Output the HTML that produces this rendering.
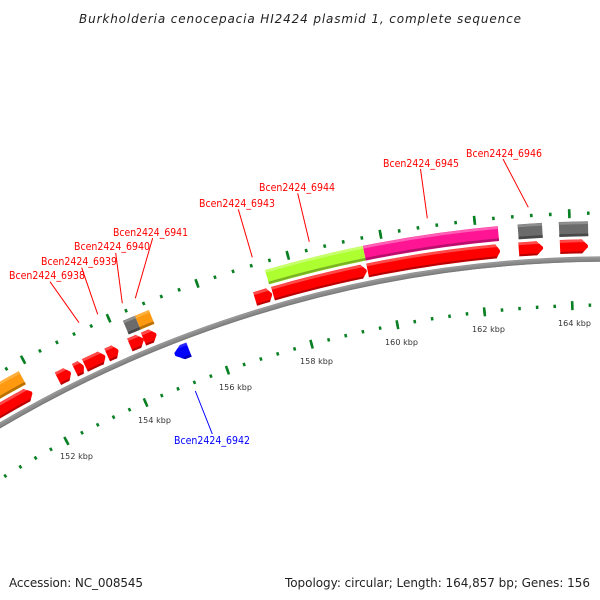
<!DOCTYPE html>
<html>
<head>
<meta charset="utf-8">
<style>
html,body{margin:0;padding:0;background:#fff;width:600px;height:600px;overflow:hidden}
svg{display:block;overflow:hidden}
text{font-family:"DejaVu Sans","Liberation Sans",sans-serif}
.lbl{font-size:11px}
.r{fill:#f00}
.b{fill:#00f}
.tk{font-size:8px;fill:#333}
.ft{font-size:12px;fill:#222}
</style>
</head>
<body>
<svg width="600" height="600" viewBox="0 0 600 600" xmlns="http://www.w3.org/2000/svg">
<defs>
<path id="a1214" pathLength="33.5" fill="none" d="M-68.86 453.53A1214 1214 0 0 1 599.41 246.05"/>
<path id="a1231" pathLength="33.5" fill="none" d="M-78.65 439.04A1231.5 1231.5 0 0 1 599.25 228.55"/>
<path id="a1237" pathLength="33.5" fill="none" d="M-82 434.06A1237.5 1237.5 0 0 1 599.2 222.55"/>
<path id="a1225" pathLength="33.5" fill="none" d="M-75.29 444.01A1225.5 1225.5 0 0 1 599.31 234.55"/>
<path id="t1247" pathLength="15341.1" fill="none" d="M-87.31 426.19A1247 1247 0 0 1 599.12 213.05"/>
<path id="t1155" pathLength="15341.1" fill="none" d="M-35.86 502.46A1155 1155 0 0 1 599.92 305.05"/>
<mask id="redmask" maskUnits="userSpaceOnUse" x="0" y="0" width="600" height="600">
  <g stroke="#fff" stroke-width="14">
    <use href="#a1214" stroke-dasharray="0 2 3.3 999"/>
    <use href="#a1214" stroke-dasharray="0 6.95 .45 999"/>
    <use href="#a1214" stroke-dasharray="0 7.85 .3 999"/>
    <use href="#a1214" stroke-dasharray="0 8.37 .83 999"/>
    <use href="#a1214" stroke-dasharray="0 9.53 .37 999"/>
    <use href="#a1214" stroke-dasharray="0 10.7 .45 999"/>
    <use href="#a1214" stroke-dasharray="0 11.4 .4 999"/>
    <use href="#a1214" stroke-dasharray="0 17 .64 999"/>
    <use href="#a1214" stroke-dasharray="0 17.88 4.32 999"/>
    <use href="#a1214" stroke-dasharray="0 22.48 6.13 999"/>
    <use href="#a1214" stroke-dasharray="0 29.69 .86 999"/>
    <use href="#a1214" stroke-dasharray="0 31.64 1.04 999"/>
  </g>
  <g fill="#fff">
    <polygon transform="rotate(-28.7 610 1460)" points="608,239 610,239 615.7,245 615.7,247 610,253 608,253"/>
    <polygon transform="rotate(-26.6 610 1460)" points="608,239 610,239 614.7,245 614.7,247 610,253 608,253"/>
    <polygon transform="rotate(-25.85 610 1460)" points="608,239 610,239 613.2,245 613.2,247 610,253 608,253"/>
    <polygon transform="rotate(-24.8 610 1460)" points="608,239 610,239 614.7,245 614.7,247 610,253 608,253"/>
    <polygon transform="rotate(-24.1 610 1460)" points="608,239 610,239 614.2,245 614.2,247 610,253 608,253"/>
    <polygon transform="rotate(-22.85 610 1460)" points="608,239 610,239 615.3,245 615.3,247 610,253 608,253"/>
    <polygon transform="rotate(-22.2 610 1460)" points="608,239 610,239 615.3,245 615.3,247 610,253 608,253"/>
    <polygon transform="rotate(-16.36 610 1460)" points="608,239 610,239 614,245 614,247 610,253 608,253"/>
    <polygon transform="rotate(-11.8 610 1460)" points="608,239 610,239 615,245 615,247 610,253 608,253"/>
    <polygon transform="rotate(-5.39 610 1460)" points="608,239 610,239 614,245 614,247 610,253 608,253"/>
    <polygon transform="rotate(-3.45 610 1460)" points="608,239 610,239 616.1,245 616.1,247 610,253 608,253"/>
    <polygon transform="rotate(-1.32 610 1460)" points="608,239 610,239 615.9,245 615.9,247 610,253 608,253"/>
  </g>
</mask>
</defs>

<rect width="600" height="600" fill="#fff"/>

<text x="79" y="23" font-size="12" font-style="italic" fill="#222" textLength="442">Burkholderia cenocepacia HI2424 plasmid 1, complete sequence</text>

<!-- scale ticks -->
<g stroke="#0a8024">
  <use href="#t1247" stroke-width="3.4" stroke-dasharray="55 345" stroke-dashoffset="114.7"/>
  <use href="#t1247" stroke-width="9" stroke-dasharray="55 1945" stroke-dashoffset="1314.7"/>
  <use href="#t1155" stroke-width="3.4" stroke-dasharray="58 342" stroke-dashoffset="116.2"/>
  <use href="#t1155" stroke-width="9" stroke-dasharray="58 1942" stroke-dashoffset="1316.2"/>
</g>

<!-- backbone -->
<path fill="none" stroke="#8a8a8a" stroke-width="5.4" d="M-61.6 464.32A1201 1201 0 0 1 600.15 259.04"/>
<path fill="none" stroke="#989898" stroke-width="1.5" d="M-62.5 463A1202.6 1202.6 0 0 1 600.1 257.44"/>
<path fill="none" stroke="#7a7a7a" stroke-width="1.2" d="M-60.47 465.98A1199 1199 0 0 1 600.17 261.04"/>

<!-- top row genes -->
<g stroke-width="15">
  <use href="#a1231" stroke="#6b6b6b" stroke-dasharray="0 31.63 1.35 999"/>
  <use href="#a1231" stroke="#6b6b6b" stroke-dasharray="0 29.72 1.13 999"/>
  <use href="#a1231" stroke="#ff1493" stroke-dasharray="0 22.49 6.31 999"/>
  <use href="#a1231" stroke="#adff2f" stroke-dasharray="0 17.83 4.66 999"/>
  <use href="#a1231" stroke="#ff9a10" stroke-dasharray="0 11.45 .7 999"/>
  <use href="#a1231" stroke="#6b6b6b" stroke-dasharray="0 10.85 .6 999"/>
  <use href="#a1231" stroke="#ff9a10" stroke-dasharray="0 2 3.5 999"/>
</g>
<g stroke-width="2.5">
  <use href="#a1237" stroke="#8e8e8e" stroke-dasharray="0 31.63 1.35 999"/>
  <use href="#a1237" stroke="#8e8e8e" stroke-dasharray="0 29.72 1.13 999"/>
  <use href="#a1237" stroke="#ff5fb5" stroke-dasharray="0 22.49 6.31 999"/>
  <use href="#a1237" stroke="#c8ff6e" stroke-dasharray="0 17.83 4.66 999"/>
  <use href="#a1237" stroke="#ffb13f" stroke-dasharray="0 11.45 .7 999"/>
  <use href="#a1237" stroke="#8e8e8e" stroke-dasharray="0 10.85 .6 999"/>
  <use href="#a1237" stroke="#ffb13f" stroke-dasharray="0 2 3.5 999"/>
  <use href="#a1225" stroke="#484848" stroke-dasharray="0 31.63 1.35 999"/>
  <use href="#a1225" stroke="#484848" stroke-dasharray="0 29.72 1.13 999"/>
  <use href="#a1225" stroke="#b80f6c" stroke-dasharray="0 22.49 6.31 999"/>
  <use href="#a1225" stroke="#7ab324" stroke-dasharray="0 17.83 4.66 999"/>
  <use href="#a1225" stroke="#b87000" stroke-dasharray="0 11.45 .7 999"/>
  <use href="#a1225" stroke="#484848" stroke-dasharray="0 10.85 .6 999"/>
  <use href="#a1225" stroke="#b87000" stroke-dasharray="0 2 3.5 999"/>
</g>

<!-- red row genes -->
<g mask="url(#redmask)" fill="none">
  <use href="#a1214" stroke="#f00" stroke-width="15"/>
  <path stroke="#ff4a4a" stroke-width="2.6" d="M-71.93 448.97A1219.5 1219.5 0 0 1 599.36 240.55"/>
  <path stroke="#b80000" stroke-width="2.2" d="M-65.5 458.5A1208 1208 0 0 1 599.45 252.05"/>
</g>

<!-- blue gene -->
<g transform="rotate(-21.15 610 1460)">
  <polygon fill="#00f" points="618,265 611,265 603,270.5 603,273.5 611,280 618,280"/>
  <polygon fill="#2a2aff" points="618,265 611,265 607.5,267.5 618,267.5"/>
  <polygon fill="#0000b8" points="618,280 611,280 607.5,277.5 618,277.5"/>
</g>

<!-- leaders -->
<g stroke="#f00" stroke-width="1" fill="none">
  <line x1="50" y1="281.7" x2="79" y2="322.7"/>
  <line x1="81.7" y1="267.7" x2="97.7" y2="314.3"/>
  <line x1="115.7" y1="253" x2="122.3" y2="303.3"/>
  <line x1="152.7" y1="238" x2="135.3" y2="298.3"/>
  <line x1="238.3" y1="209.3" x2="252.3" y2="257.3"/>
  <line x1="297.7" y1="193.3" x2="309.3" y2="241.7"/>
  <line x1="420.5" y1="169" x2="427.3" y2="218.3"/>
  <line x1="503" y1="159" x2="528.3" y2="207.3"/>
</g>
<line x1="195.3" y1="391" x2="212.3" y2="434" stroke="#00f" stroke-width="1"/>

<!-- gene labels -->
<text class="lbl r" x="9" y="279" textLength="76" lengthAdjust="spacingAndGlyphs">Bcen2424_6938</text>
<text class="lbl r" x="41" y="265" textLength="76" lengthAdjust="spacingAndGlyphs">Bcen2424_6939</text>
<text class="lbl r" x="74" y="250" textLength="76" lengthAdjust="spacingAndGlyphs">Bcen2424_6940</text>
<text class="lbl r" x="113" y="236" textLength="75" lengthAdjust="spacingAndGlyphs">Bcen2424_6941</text>
<text class="lbl r" x="199" y="207" textLength="76" lengthAdjust="spacingAndGlyphs">Bcen2424_6943</text>
<text class="lbl r" x="259" y="191" textLength="76" lengthAdjust="spacingAndGlyphs">Bcen2424_6944</text>
<text class="lbl r" x="383" y="167" textLength="76" lengthAdjust="spacingAndGlyphs">Bcen2424_6945</text>
<text class="lbl r" x="466" y="157" textLength="76" lengthAdjust="spacingAndGlyphs">Bcen2424_6946</text>
<text class="lbl b" x="174" y="444" textLength="76" lengthAdjust="spacingAndGlyphs">Bcen2424_6942</text>

<!-- tick labels -->
<text class="tk" x="60" y="459" textLength="33">152 kbp</text>
<text class="tk" x="138" y="423" textLength="33">154 kbp</text>
<text class="tk" x="219" y="390" textLength="33">156 kbp</text>
<text class="tk" x="300" y="364" textLength="33">158 kbp</text>
<text class="tk" x="385" y="345" textLength="33">160 kbp</text>
<text class="tk" x="472" y="332" textLength="33">162 kbp</text>
<text class="tk" x="558" y="326" textLength="33">164 kbp</text>

<!-- footer -->
<text class="ft" x="9" y="587" textLength="134">Accession: NC_008545</text>
<text class="ft" x="285" y="587" textLength="305">Topology: circular; Length: 164,857 bp; Genes: 156</text>
</svg>
</body>
</html>
